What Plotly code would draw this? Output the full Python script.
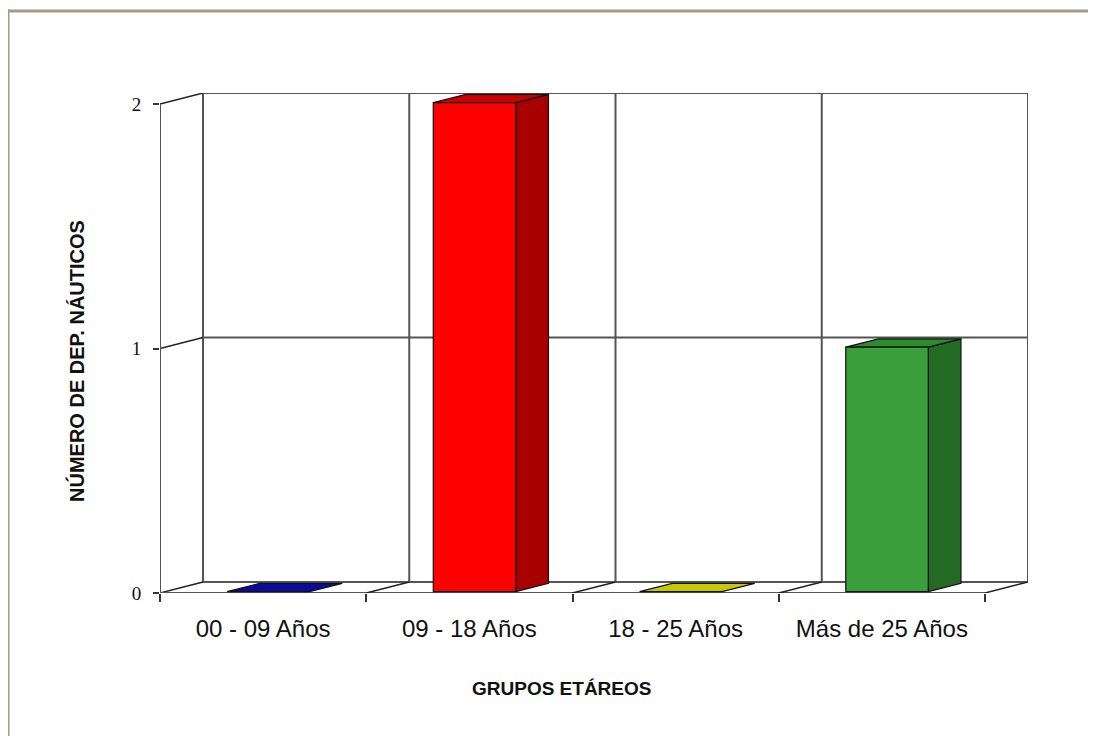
import plotly.graph_objects as go

# ---- data ----
categories = ["00 - 09 Años", "09 - 18 Años", "18 - 25 Años", "Más de 25 Años"]
values = [0, 2, 0, 1]
y_ticks = [0, 1, 2]
front_colors = ["#0A0AA6", "#FF0000", "#D6D600", "#3A9E3A"]
side_colors = ["#000070", "#A80000", "#8C8C00", "#236B23"]
top_colors = ["#0A0AA0", "#C80000", "#C8C800", "#2E8A2E"]
x_title = "GRUPOS ETÁREOS"
y_title = "NÚMERO DE DEP. NÁUTICOS"

# ---- 3D projection parameters ----
DX = 0.2085   # depth offset in category units
DY = 0.045    # depth offset in value units
GAP = 0.30    # gap on each side of bar
D0, D1 = 0.12, 0.88  # bar depth span
n = len(categories)
vmax = max(y_ticks)

W, H = 1096, 736
OFF = 8  # page body margin
ml, mr, mt, mb = 152, 76, 85, 151

def P(x, v, d):
    return x + d * DX, v + d * DY

fig = go.Figure()
GRID = "#555555"

def line(pts, color=GRID, width=2):
    xs, ys = zip(*pts)
    fig.add_trace(go.Scatter(x=list(xs), y=list(ys), mode="lines",
                             line=dict(color=color, width=width),
                             hoverinfo="skip", showlegend=False, cliponaxis=False))

def poly(pts, fill, width=1.2):
    xs, ys = zip(*(pts + [pts[0]]))
    fig.add_trace(go.Scatter(x=list(xs), y=list(ys), mode="lines", fill="toself",
                             fillcolor=fill, line=dict(color="#111111", width=width),
                             hoverinfo="skip", showlegend=False, cliponaxis=False))

# back wall horizontal gridlines
for v in y_ticks:
    line([P(0, v, 1), P(n, v, 1)])
# back wall vertical lines
for i in range(n + 1):
    line([P(i, 0, 1), P(i, vmax, 1)])
# left side wall diagonals
for v in y_ticks:
    line([P(0, v, 0), P(0, v, 1)], color="#222222", width=1.5)
# front y axis line
line([P(0, 0, 0), P(0, vmax, 0)])
# floor
line([P(0, 0, 0), P(n, 0, 0)])
for i in range(1, n + 1):
    line([P(i, 0, 0), P(i, 0, 1)], color="#222222", width=1.5)

# bars
for i, (v, fc, sc, tc) in enumerate(zip(values, front_colors, side_colors, top_colors)):
    x0, x1 = i + GAP, i + 1 - GAP
    if v > 0:
        poly([P(x1, 0, D0), P(x1, 0, D1), P(x1, v, D1), P(x1, v, D0)], sc)
        poly([P(x0, v, D0), P(x1, v, D0), P(x1, v, D1), P(x0, v, D1)], tc)
        poly([P(x0, 0, D0), P(x1, 0, D0), P(x1, v, D0), P(x0, v, D0)], fc)
    else:
        poly([P(x0, 0, D0), P(x1, 0, D0), P(x1, 0, D1), P(x0, 0, D1)], tc)

pw = W - ml - mr
ph = H - mt - mb

def px_x(px):  # page pixel -> paper x
    return (px - OFF - ml) / pw

def px_y(py):  # page pixel -> paper y
    return (H - mb - (py - OFF)) / ph

fig.update_layout(
    width=W, height=H,
    margin=dict(l=ml, r=mr, t=mt, b=mb, autoexpand=False),
    paper_bgcolor="white", plot_bgcolor="white",
    showlegend=False,
    xaxis=dict(range=[0, n + DX], showgrid=False, zeroline=False, showline=False,
               tickmode="array", tickvals=[i + 0.5 for i in range(n)], ticktext=categories,
               ticks="", ticklabelstandoff=19,
               tickfont=dict(family="Liberation Sans, Arial", size=24, color="#111111"),
               minor=dict(tickmode="array", tickvals=list(range(n + 1)), ticks="outside",
                          ticklen=8, tickcolor="#333333", tickwidth=1.5),
               fixedrange=True),
    yaxis=dict(range=[0, vmax + DY], showgrid=False, zeroline=False, showline=False,
               tickmode="array", tickvals=y_ticks, ticks="outside", ticklen=6,
               tickcolor="#333333", tickwidth=1.5, ticklabelstandoff=8,
               tickfont=dict(family="Liberation Serif", size=19, color="#111111"),
               fixedrange=True),
    shapes=[
        dict(type="line", xref="paper", yref="paper",
             x0=px_x(7), x1=px_x(W + 20), y0=px_y(11), y1=px_y(11),
             line=dict(color="#A59A82", width=3)),
        dict(type="line", xref="paper", yref="paper",
             x0=px_x(8), x1=px_x(8), y0=px_y(9.5), y1=px_y(H + 20),
             line=dict(color="#A59A82", width=3)),
    ],
    annotations=[
        dict(text=x_title, xref="paper", yref="paper", x=px_x(561), y=px_y(688),
             showarrow=False, xanchor="center", yanchor="middle",
             font=dict(family="Liberation Sans, Arial", size=19, color="#111111", weight="bold")),
        dict(text=y_title, xref="paper", yref="paper", x=px_x(76), y=px_y(361),
             showarrow=False, xanchor="center", yanchor="middle", textangle=-90,
             font=dict(family="Liberation Sans, Arial", size=20, color="#111111", weight="bold")),
    ],
)

fig.write_html("out.html")
